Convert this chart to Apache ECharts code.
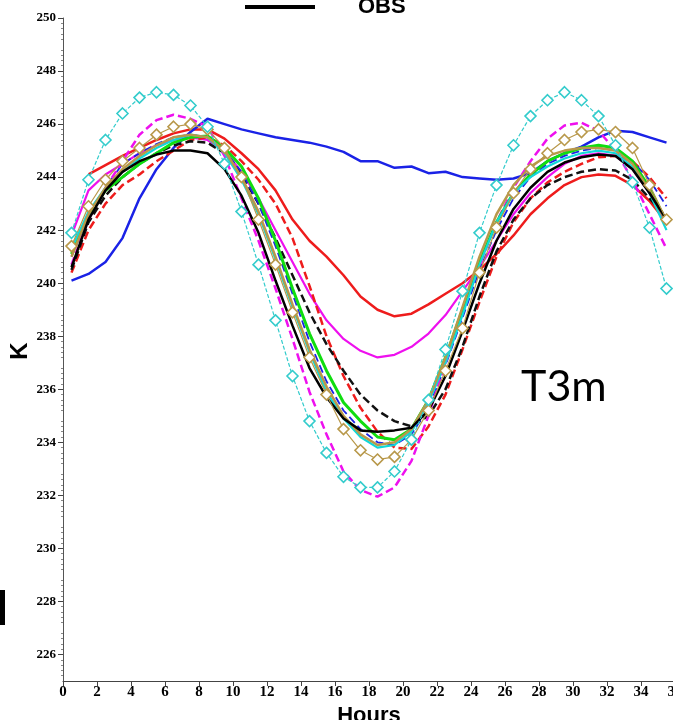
<!DOCTYPE html>
<html>
<head>
<meta charset="utf-8">
<script src="https://cdn.jsdelivr.net/npm/echarts@6/dist/echarts.min.js"></script>
<style>
  html, body { margin: 0; padding: 0; background: #fff; }
  #main { width: 673px; height: 720px; }
</style>
</head>
<body>
<div id="main"></div>
<script>
var hours = [0.5, 1.5, 2.5, 3.5, 4.5, 5.5, 6.5, 7.5, 8.5, 9.5, 10.5, 11.5, 12.5, 13.5, 14.5, 15.5, 16.5, 17.5,
             18.5, 19.5, 20.5, 21.5, 22.5, 23.5, 24.5, 25.5, 26.5, 27.5, 28.5, 29.5, 30.5, 31.5, 32.5, 33.5, 34.5, 35.5];
var yTicks = [226, 228, 230, 232, 234, 236, 238, 240, 242, 244, 246, 248, 250];

var obs = [240.6, 242.4, 243.5, 244.2, 244.6, 244.85, 245.0, 245.0, 244.9, 244.3, 243.3, 241.9, 240.1, 238.4, 236.8, 235.7, 234.9, 234.45,
           234.4, 234.45, 234.55, 235.2, 236.5, 238.2, 240.0, 241.6, 242.8, 243.6, 244.2, 244.55, 244.75, 244.85, 244.8, 244.3, 243.4, 242.4];
var blackDash = [240.5, 242.3, 243.3, 244.0, 244.5, 244.9, 245.2, 245.35, 245.3, 244.9, 244.1, 243.0, 241.7, 240.3, 238.9, 237.7, 236.7, 235.8,
                 235.2, 234.8, 234.6, 235.0, 236.0, 237.6, 239.5, 241.2, 242.4, 243.2, 243.7, 244.0, 244.2, 244.3, 244.25, 243.9, 243.2, 242.5];
var redSolid = [null, 244.1, 244.45, 244.8, 245.1, 245.4, 245.65, 245.8, 245.8, 245.45, 244.9, 244.3, 243.5, 242.4, 241.6, 241.0, 240.3, 239.5,
                239.0, 238.75, 238.85, 239.2, 239.6, 240.0, 240.5, 241.1, 241.8, 242.6, 243.2, 243.7, 244.0, 244.1, 244.05, 243.7, 243.1, 242.3];
var redDash = [240.4, 242.0, 243.0, 243.7, 244.1, 244.6, 245.0, 245.4, 245.5, 245.2, 244.6, 243.9, 243.0, 241.7, 239.9, 238.0, 236.5, 235.3,
               234.4, 233.8, 233.75, 234.6, 235.8, 237.5, 239.3, 241.0, 242.3, 243.2, 243.8, 244.2, 244.5, 244.75, 244.8, 244.6, 244.0, 243.2];
var blueSolid = [240.1, 240.35, 240.8, 241.7, 243.2, 244.3, 245.1, 245.7, 246.2, 246.0, 245.8, 245.65, 245.5, 245.4, 245.3, 245.15, 244.95, 244.6,
                 244.6, 244.35, 244.4, 244.15, 244.2, 244.0, 243.95, 243.9, 243.95, 244.15, 244.6, 244.9, 245.15, 245.5, 245.75, 245.7, 245.5, 245.3];
var blueDash = [241.0, 242.5, 243.6, 244.5, 244.9, 245.25, 245.5, 245.6, 245.5, 245.0, 244.2, 243.0, 241.4, 239.6, 237.8, 236.3, 235.2, 234.5,
                234.0, 233.9, 234.3, 235.3, 236.9, 238.7, 240.5, 242.0, 243.2, 244.0, 244.5, 244.8, 245.0, 245.1, 245.0, 244.6, 243.9, 242.9];
var green = [241.1, 242.6, 243.5, 244.0, 244.5, 244.9, 245.3, 245.5, 245.55, 245.1, 244.4, 243.2, 241.6, 239.8, 238.1, 236.7, 235.5, 234.8,
             234.2, 234.1, 234.5, 235.6, 237.2, 239.0, 240.8, 242.3, 243.4, 244.1, 244.6, 244.9, 245.1, 245.2, 245.1, 244.6, 243.6, 242.3];
var magentaSolid = [241.8, 243.5, 244.1, 244.5, 244.9, 245.2, 245.4, 245.5, 245.4, 245.0, 244.2, 243.2, 242.0, 240.8, 239.6, 238.6, 237.9, 237.45,
                    237.2, 237.3, 237.6, 238.1, 238.8, 239.7, 240.6, 241.6, 242.6, 243.4, 244.0, 244.5, 244.8, 244.9, 244.8, 244.3, 243.4, 242.2];
var magentaDash = [240.7, 242.4, 243.6, 244.6, 245.6, 246.15, 246.35, 246.2, 245.9, 244.8, 243.2, 241.6, 239.8, 237.9, 235.9, 234.3, 232.9, 232.2,
                   231.95, 232.3, 233.3, 235.0, 237.0, 238.9, 240.7, 242.3, 243.6, 244.6, 245.45, 245.95, 246.05, 245.75, 245.0, 243.9, 242.6, 241.3];
var cyanSolid = [241.3, 242.7, 243.6, 244.2, 244.7, 245.1, 245.4, 245.6, 245.5, 244.9, 243.9, 242.6, 240.9, 239.1, 237.4, 235.9, 234.9, 234.2,
                 233.8, 233.9, 234.4, 235.5, 237.0, 238.8, 240.7, 242.3, 243.4, 244.0, 244.4, 244.7, 244.9, 245.0, 244.9, 244.4, 243.4, 242.0];
var cyanMark = [241.9, 243.9, 245.4, 246.4, 247.0, 247.2, 247.1, 246.7, 245.9, 244.5, 242.7, 240.7, 238.6, 236.5, 234.8, 233.6, 232.7, 232.3,
                232.3, 232.9, 234.1, 235.6, 237.5, 239.7, 241.9, 243.7, 245.2, 246.3, 246.9, 247.2, 246.9, 246.3, 245.2, 243.8, 242.1, 239.8];
var oliveSolid = [241.0, 242.6, 243.6, 244.3, 244.8, 245.2, 245.5, 245.6, 245.5, 245.0, 244.0, 242.7, 241.0, 239.2, 237.5, 236.1, 235.0, 234.3,
                  233.9, 234.0, 234.5, 235.6, 237.2, 239.1, 241.0, 242.6, 243.7, 244.4, 244.8, 245.0, 245.1, 245.1, 245.0, 244.5, 243.5, 242.3];
var oliveMark = [241.4, 242.9, 243.9, 244.6, 245.1, 245.6, 245.9, 246.0, 245.8, 245.1, 244.0, 242.4, 240.7, 238.9, 237.2, 235.8, 234.5, 233.7,
                 233.35, 233.45, 234.1, 235.2, 236.7, 238.3, 240.4, 242.1, 243.4, 244.3, 244.9, 245.4, 245.7, 245.8, 245.7, 245.1, 243.7, 242.4];

function pairs(vals) {
    var out = [];
    for (var i = 0; i < hours.length; i++) {
        out.push([hours[i], vals[i]]);
    }
    return out;
}

function line(name, vals, color, width, dash) {
    return {
        name: name,
        type: 'line',
        data: pairs(vals),
        showSymbol: false,
        symbol: 'none',
        connectNulls: false,
        lineStyle: { color: color, width: width, type: dash ? [8, 4] : 'solid' },
        itemStyle: { color: color }
    };
}

function marked(name, vals, color, dash) {
    return {
        name: name,
        type: 'line',
        data: pairs(vals),
        symbol: 'diamond',
        symbolSize: 11,
        lineStyle: { color: color, width: 1.2, type: dash ? [4, 2] : 'solid' },
        itemStyle: { color: '#fff', borderColor: color, borderWidth: 1.6 }
    };
}

var chart = echarts.init(document.getElementById('main'));
var axisFont = 'Liberation Sans Narrow';
var option = {
    animation: false,
    grid: { left: 63, right: -2, top: 18, bottom: 39, outerBoundsMode: 'none', containLabel: false },
    legend: {
        data: ['OBS'],
        left: 240,
        top: -9,
        icon: 'rect',
        itemWidth: 70,
        itemHeight: 4,
        itemStyle: { color: '#000' },
        textStyle: { fontSize: 22, fontWeight: 'bold', fontFamily: 'Liberation Sans', color: '#000', padding: [0, 0, 0, 38] }
    },
    xAxis: {
        type: 'value',
        min: 0,
        max: 36,
        interval: 2,
        name: 'Hours',
        nameLocation: 'middle',
        nameGap: 23,
        nameTextStyle: { fontSize: 22, fontWeight: 'bold', fontFamily: 'Liberation Sans', color: '#000' },
        axisLine: { lineStyle: { color: '#444', width: 1 } },
        axisTick: { inside: false, length: 5, lineStyle: { color: '#444' } },
        axisLabel: { fontSize: 15, fontWeight: 'bold', fontFamily: axisFont, color: '#000', margin: 4 },
        splitLine: { show: false }
    },
    yAxis: {
        type: 'value',
        min: 225,
        max: 250,
        interval: 1,
        axisLine: { show: true, lineStyle: { color: '#555', width: 1 } },
        axisTick: { show: true, length: 5, customValues: yTicks, lineStyle: { color: '#444' } },
        minorTick: { show: true, splitNumber: 5, length: 2, lineStyle: { color: '#888' } },
        axisLabel: { customValues: yTicks, fontSize: 13, fontWeight: 'bold', fontFamily: axisFont, color: '#000', margin: 7 },
        splitLine: { show: false }
    },
    graphic: [
        { type: 'text', x: 20, y: 351, rotation: Math.PI / 2,
          style: { text: 'K', fontSize: 24, fontWeight: 'bold', fontFamily: 'Liberation Sans', fill: '#000', align: 'center', verticalAlign: 'middle' } },
        { type: 'text', left: 521, top: 366, style: { text: 'T3m', fontSize: 43, fontFamily: 'Lato', fill: '#000' } },
        { type: 'rect', left: 0, top: 590, shape: { width: 5, height: 35 }, style: { fill: '#000' } }
    ],
    series: [
        line('RED', redSolid, '#ee1c1c', 2.5, false),
        line('MAGENTA', magentaSolid, '#ee10ee', 2.2, false),
        line('BLUE', blueSolid, '#1a22e6', 2.5, false),
        line('RED_D', redDash, '#ee1c1c', 2.5, true),
        line('BLACK_D', blackDash, '#111', 2.5, true),
        line('BLUE_D', blueDash, '#1a22e6', 1.8, true),
        line('MAGENTA_D', magentaDash, '#ee10ee', 2.5, true),
        line('GREEN', green, '#10dd10', 3, false),
        line('CYAN', cyanSolid, '#10d8d8', 2.2, false),
        line('OLIVE', oliveSolid, '#b8984a', 2.5, false),
        line('OBS', obs, '#000', 2.5, false),
        marked('OLIVE_M', oliveMark, '#b8984a', false),
        marked('CYAN_M', cyanMark, '#33cccc', true)
    ]
};
chart.setOption(option);
</script>
</body>
</html>
